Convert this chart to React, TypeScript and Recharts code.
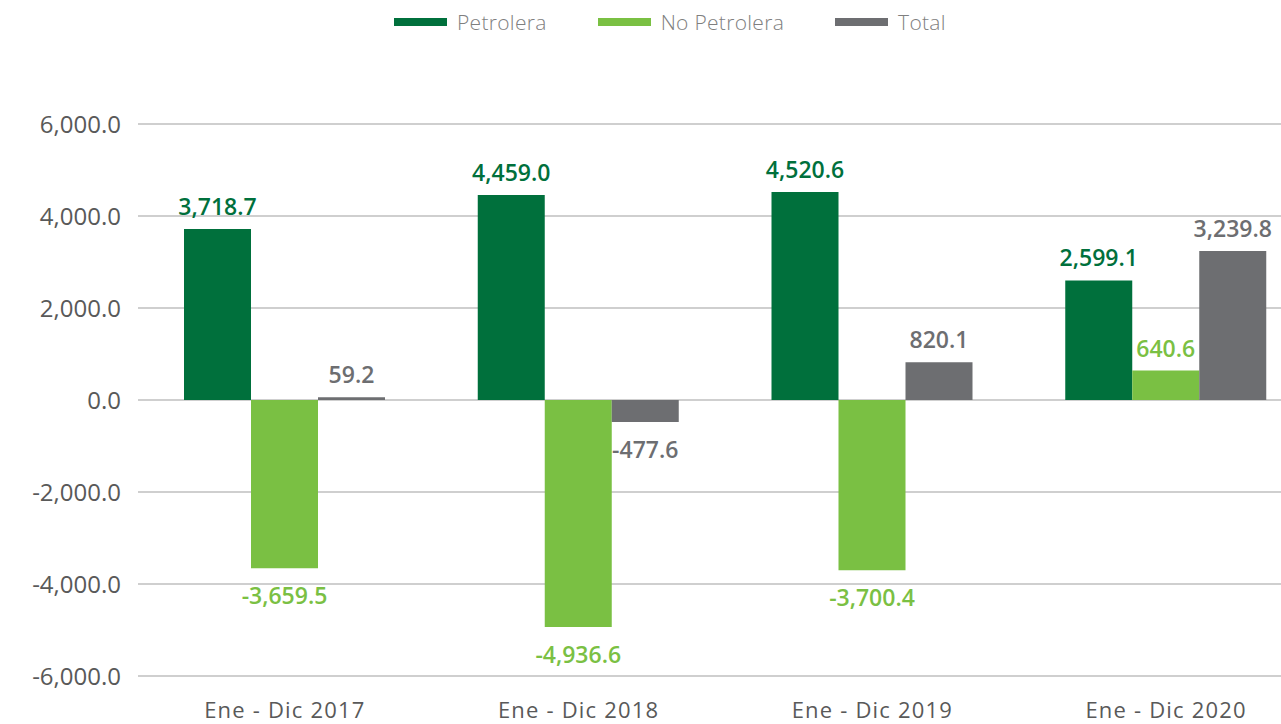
import React from "react";
import { BarChart, Bar, XAxis, YAxis, CartesianGrid, LabelList } from "recharts";

const categories = ["Ene - Dic 2017", "Ene - Dic 2018", "Ene - Dic 2019", "Ene - Dic 2020"];
const petrolera = [3718.7, 4459.0, 4520.6, 2599.1];
const noPetrolera = [-3659.5, -4936.6, -3700.4, 640.6];
const total = [59.2, -477.6, 820.1, 3239.8];
const yTicks = [-6000, -4000, -2000, 0, 2000, 4000, 6000];

const seriesNames = ["Petrolera", "No Petrolera", "Total"];
const colors = ["#00703C", "#7AC043", "#6D6E71"];

const data = categories.map((c, i) => ({
  name: c,
  petrolera: petrolera[i],
  noPetrolera: noPetrolera[i],
  total: total[i],
}));

const fmt = (v: number) =>
  v.toLocaleString("en-US", { minimumFractionDigits: 1, maximumFractionDigits: 1 });

const FONT = "'Open Sans', sans-serif";

const makeLabel = (color: string) => (props: any) => {
  const { x, y, width, height, value } = props;
  const v = Number(value);
  const top = Math.min(Number(y), Number(y) + Number(height));
  const bottom = Math.max(Number(y), Number(y) + Number(height));
  const cx = Number(x) + Number(width) / 2;
  const ty = v >= 0 ? top - 14 : bottom + 36;
  return (
    <text
      x={cx}
      y={ty}
      textAnchor="middle"
      fill={color}
      fontFamily={FONT}
      fontSize={23}
      fontWeight={600}
    >
      {fmt(v)}
    </text>
  );
};

const LegendBox = () => (
  <div
    style={{
      position: "absolute",
      left: 394,
      top: 8,
      display: "flex",
      alignItems: "center",
      fontFamily: FONT,
      fontSize: 21,
      fontWeight: 300,
      letterSpacing: 0.3,
      color: "#7F7F7F",
      whiteSpace: "nowrap",
    }}
  >
    {seriesNames.map((n, i) => (
      <div key={n} style={{ display: "flex", alignItems: "center", marginRight: i < 2 ? 51 : 0 }}>
        <div style={{ width: 53, height: 8, background: colors[i], marginRight: 10 }} />
        <span>{n}</span>
      </div>
    ))}
  </div>
);

export default function App() {
  return (
    <div
      style={{
        position: "absolute",
        left: 0,
        top: 0,
        width: 1281,
        height: 724,
        overflow: "hidden",
        background: "#fff",
      }}
    >
      <LegendBox />
      <BarChart
        width={1313}
        height={724}
        data={data}
        margin={{ top: 124, right: 0, bottom: 0, left: 0 }}
        barGap={0}
        barSize={67}
      >
        <CartesianGrid vertical={false} stroke="#BFBFBF" strokeWidth={1.5} />
        <XAxis
          dataKey="name"
          height={48}
          axisLine={false}
          tickLine={false}
          tickMargin={20}
          interval={0}
          tick={{ fill: "#595959", fontSize: 22, fontFamily: FONT, letterSpacing: 1.2 }}
        />
        <YAxis
          width={138}
          domain={[-6000, 6000]}
          ticks={yTicks}
          axisLine={false}
          tickLine={false}
          tickMargin={11}
          tickFormatter={(v: number) => fmt(v)}
          tick={{ fill: "#595959", fontSize: 24, fontFamily: FONT }}
        />
        <Bar dataKey="petrolera" fill={colors[0]} isAnimationActive={false}>
          <LabelList dataKey="petrolera" content={makeLabel(colors[0])} />
        </Bar>
        <Bar dataKey="noPetrolera" fill={colors[1]} isAnimationActive={false}>
          <LabelList dataKey="noPetrolera" content={makeLabel(colors[1])} />
        </Bar>
        <Bar dataKey="total" fill={colors[2]} isAnimationActive={false}>
          <LabelList dataKey="total" content={makeLabel(colors[2])} />
        </Bar>
      </BarChart>
    </div>
  );
}
